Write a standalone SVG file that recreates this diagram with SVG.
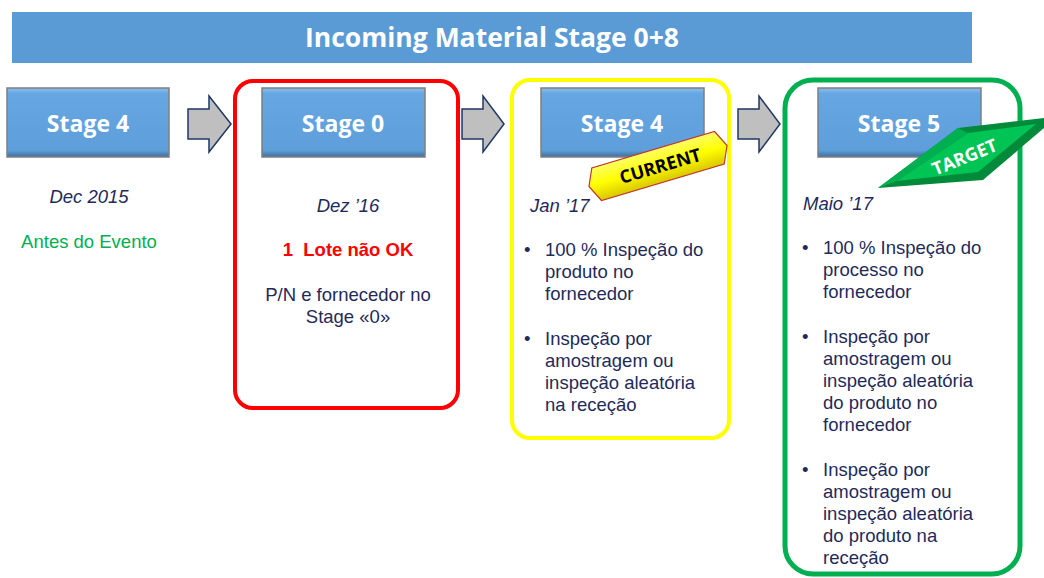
<svg xmlns="http://www.w3.org/2000/svg" width="1044" height="578" viewBox="0 0 1044 578">
<defs>
<linearGradient id="stg" x1="0" y1="0" x2="0" y2="1">
<stop offset="0" stop-color="#8cc0ee"/>
<stop offset="0.08" stop-color="#66a7e2"/>
<stop offset="0.9" stop-color="#5e9fdb"/>
<stop offset="1" stop-color="#3f6f9e"/>
</linearGradient>
<linearGradient id="cur" x1="0" y1="0" x2="0" y2="1">
<stop offset="0" stop-color="#ffff66"/>
<stop offset="0.5" stop-color="#ffff00"/>
<stop offset="1" stop-color="#d9c800"/>
</linearGradient>
<style>
.stage{fill:url(#stg);stroke:#7f7f7f;stroke-width:1.5}
.stxt{font-family:"Open Sans","Liberation Sans",sans-serif;font-weight:bold;font-size:23px;fill:#fff;text-anchor:middle}
.arrow{fill:#bfbfbf;stroke:#1f3864;stroke-width:1.5}
.t{font-family:"Liberation Sans",Arial,sans-serif;font-size:18.5px;fill:#1f2a5a;white-space:pre}
.it{font-style:italic}
.c{text-anchor:middle}
</style>
</defs>
<rect width="1044" height="578" fill="#fff"/>
<g id="title">
<rect x="12" y="12" width="960" height="51" fill="#5b9bd5"/>
<text x="492" y="47" font-family="Open Sans, Liberation Sans, sans-serif" font-weight="bold" font-size="26.5" fill="#fff" text-anchor="middle">Incoming Material Stage 0+8</text>
</g>
<g id="frames" fill="none">
<rect x="235" y="81" width="223" height="327" rx="18" stroke="#ff0000" stroke-width="4"/>
<rect x="512" y="80" width="217" height="358" rx="18" stroke="#ffff00" stroke-width="4"/>
<rect x="785" y="80" width="235" height="494" rx="28" stroke="#00b050" stroke-width="5"/>
</g>
<g id="connectors">
<path class="arrow" d="M188,109 H209 V96 L231,124 L209,152 V139 H188 Z"/>
<path class="arrow" d="M462,109 H483 V96 L504,124 L483,152 V139 H462 Z"/>
<path class="arrow" d="M738,109 H759 V96 L780,124 L759,152 V139 H738 Z"/>
</g>
<g id="node-stage4a">
<rect class="stage" x="7" y="88" width="162" height="69"/>
<text class="stxt" x="88" y="132">Stage 4</text>
<text class="t it c" x="89" y="203">Dec 2015</text>
<text class="t c" x="89" y="248" style="fill:#00b050">Antes do Evento</text>
</g>
<g id="node-stage0">
<rect class="stage" x="262" y="88" width="163" height="69"/>
<text class="stxt" x="343" y="132">Stage 0</text>
<text class="t it c" x="348" y="212">Dez ’16</text>
<text class="t c" x="348" y="256" font-weight="bold" style="fill:#ff0000" xml:space="preserve">1  Lote não OK</text>
<text class="t c" x="348" y="301">P/N e fornecedor no</text>
<text class="t c" x="348" y="323">Stage «0»</text>
</g>
<g id="node-stage4b">
<rect class="stage" x="541" y="88" width="163" height="69"/>
<text class="stxt" x="622" y="132">Stage 4</text>
<text class="t it" x="530" y="212">Jan ’17</text>
<text class="t" x="524" y="256">•</text>
<text class="t" x="545" y="256">100 % Inspeção do</text>
<text class="t" x="545" y="278">produto no</text>
<text class="t" x="545" y="300">fornecedor</text>
<text class="t" x="524" y="345">•</text>
<text class="t" x="545" y="345">Inspeção por</text>
<text class="t" x="545" y="367">amostragem ou</text>
<text class="t" x="545" y="389">inspeção aleatória</text>
<text class="t" x="545" y="411">na receção</text>
</g>
<g id="node-stage5">
<rect class="stage" x="818" y="88" width="163" height="69"/>
<text class="stxt" x="899" y="132">Stage 5</text>
<text class="t it" x="803" y="210">Maio ’17</text>
<text class="t" x="802" y="254">•</text>
<text class="t" x="823" y="254">100 % Inspeção do</text>
<text class="t" x="823" y="276">processo no</text>
<text class="t" x="823" y="298">fornecedor</text>
<text class="t" x="802" y="343">•</text>
<text class="t" x="823" y="343">Inspeção por</text>
<text class="t" x="823" y="365">amostragem ou</text>
<text class="t" x="823" y="387">inspeção aleatória</text>
<text class="t" x="823" y="409">do produto no</text>
<text class="t" x="823" y="431">fornecedor</text>
<text class="t" x="802" y="476">•</text>
<text class="t" x="823" y="476">Inspeção por</text>
<text class="t" x="823" y="498">amostragem ou</text>
<text class="t" x="823" y="520">inspeção aleatória</text>
<text class="t" x="823" y="542">do produto na</text>
<text class="t" x="823" y="564">receção</text>
</g>
<g id="tag-current" transform="translate(658,166) rotate(-16.5)">
<path d="M-72,0 L-64,-17 H64 L72,0 L64,17 H-64 Z" fill="url(#cur)" stroke="#c0392b" stroke-width="1.2"/>
<text x="2" y="7" font-family="Open Sans, Liberation Sans, sans-serif" font-weight="bold" font-size="18" fill="#000" text-anchor="middle">CURRENT</text>
</g>
<g id="tag-target">
<path d="M878,188 L958,128 L1044,118 L1044,128 L983,180 Z" fill="#008a3a"/>
<path d="M878,188 L958,128 L968,133 L897,181 Z" fill="#00b050"/>
<path d="M897,181 L968,133 L1036,124 L978,172 Z" fill="#00c454"/>
<text transform="translate(967,163) rotate(-22)" font-family="Open Sans, Liberation Sans, sans-serif" font-weight="bold" font-size="18" fill="#fff" text-anchor="middle">TARGET</text>
</g>
</svg>
